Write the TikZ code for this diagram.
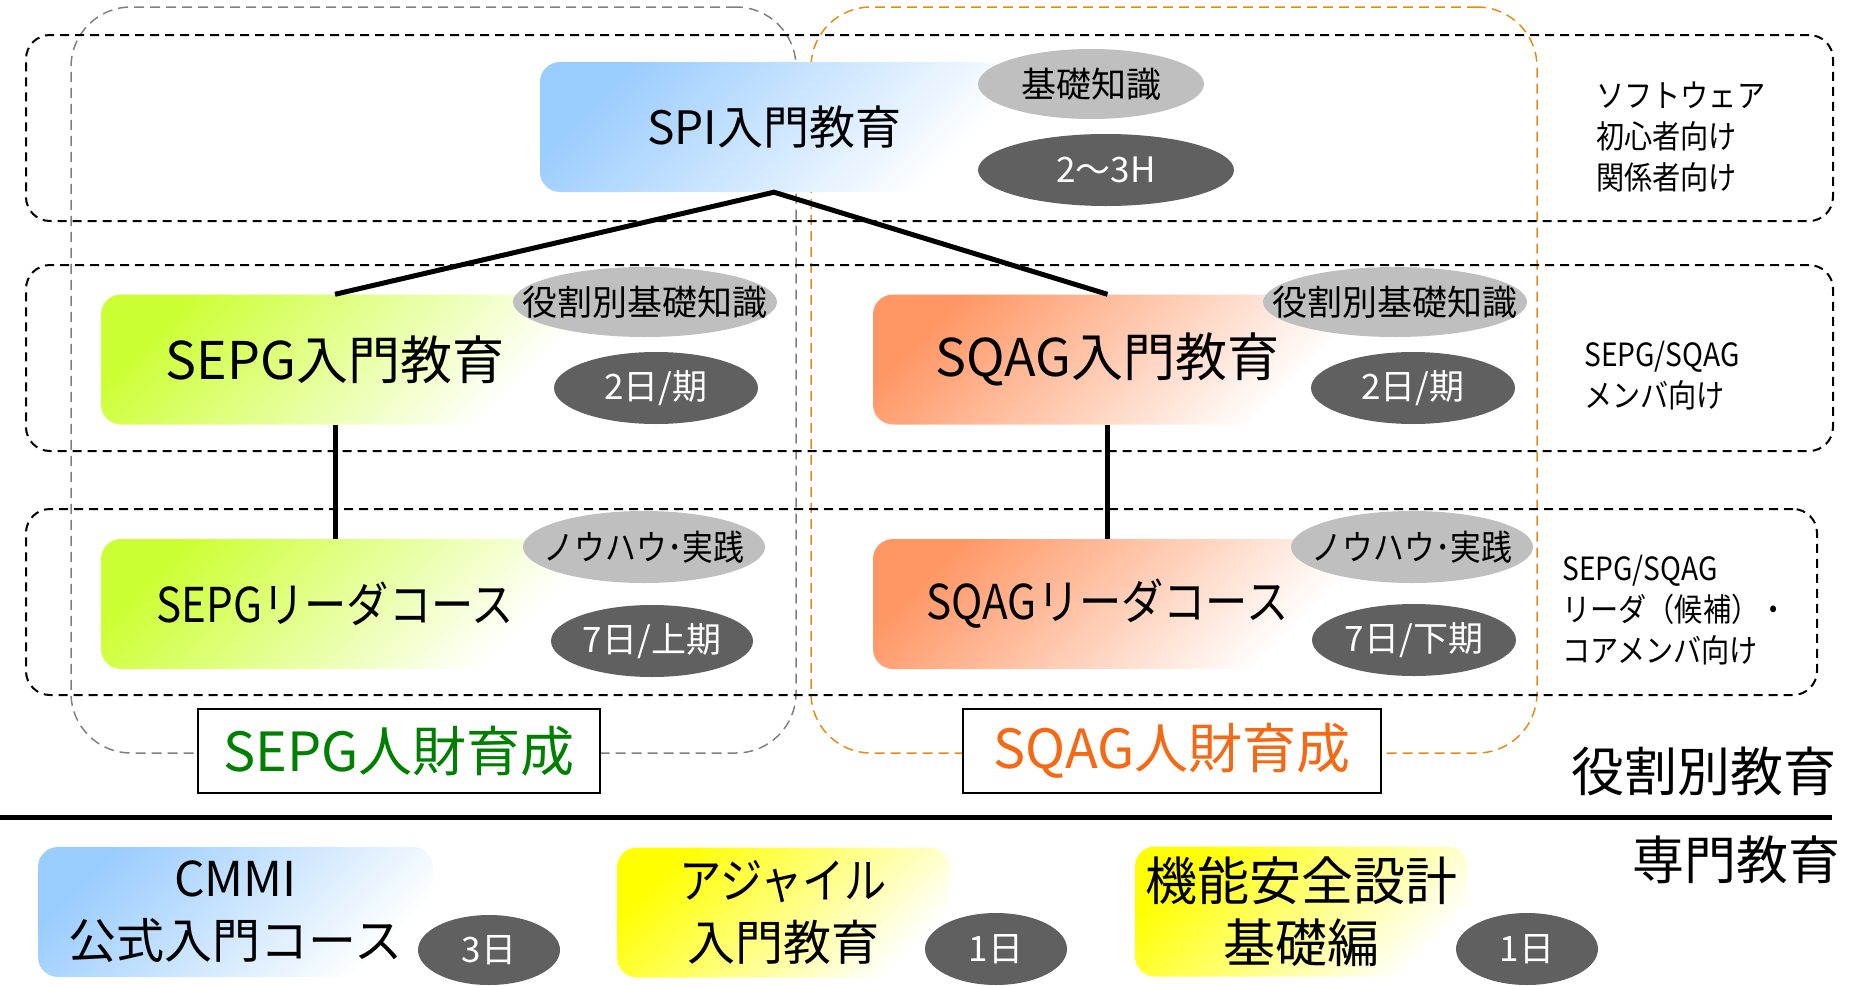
\documentclass[tikz,border=0pt]{standalone}
\usepackage{fontspec}
\setmainfont{Noto Sans CJK JP}
\newfontfamily\jpc[FakeStretch=0.88]{Noto Sans CJK JP}
\usetikzlibrary{shapes.geometric}
\definecolor{spiblue}{RGB}{153,204,255}
\definecolor{sepggreen}{RGB}{204,255,51}
\definecolor{sqagorange}{RGB}{255,150,100}
\definecolor{agileyellow}{RGB}{255,255,0}
\definecolor{lgray}{RGB}{191,191,191}
\definecolor{dgray}{RGB}{96,96,96}
\definecolor{grpgray}{RGB}{128,128,128}
\definecolor{grporange}{RGB}{230,140,20}
\definecolor{sepgtext}{RGB}{0,128,0}
\definecolor{sqagtext}{RGB}{245,105,20}
\newcommand{\jfs}[2]{\fontsize{#1}{#2}\selectfont}
\tikzset{
  rowbox/.style={draw=black, line width=2pt, dash pattern=on 9pt off 6pt, rounded corners=24pt, inner sep=0pt},
  grpbox/.style={line width=1.5pt, dash pattern=on 10pt off 6pt, rounded corners=60pt, inner sep=0pt},
  course/.style={top color=#1, bottom color=white, shading angle=45, rounded corners=20pt, inner sep=0pt, align=center},
  tagL/.style={ellipse, fill=lgray, inner sep=0pt},
  tagD/.style={ellipse, fill=dgray, inner sep=0pt},
  tagLt/.style={font=\jfs{35}{40}, text=black, inner sep=0pt},
  tagDt/.style={font=\jfs{35}{40}, text=white, inner sep=0pt},
  rowlabel/.style={anchor=west, align=left, font=\jpc\jfs{32}{41}, inner sep=0pt},
  grplabel/.style={draw=black, line width=2pt, fill=white, inner sep=0pt, font=\jfs{54}{60}},
  conn/.style={line width=5pt, line join=miter},
}
\begin{document}
\begin{tikzpicture}[x=1pt,y=-1pt]
\useasboundingbox (0,0) rectangle (1854,985);
% group frames
\node[grpbox, draw=grpgray, minimum width=725pt, minimum height=746pt] (gsepg) at (433.5,380) {};
\node[grpbox, draw=grporange, minimum width=726pt, minimum height=746pt] (gsqag) at (1174,380) {};
% row frames
\node[rowbox, minimum width=1807pt, minimum height=186pt] (row1) at (929.5,128) {};
\node[rowbox, minimum width=1807pt, minimum height=186pt] (row2) at (929.5,358) {};
\node[rowbox, minimum width=1791pt, minimum height=186pt] (row3) at (921.5,602) {};
% row labels
\node[rowlabel] (lab1) at (1596,137) {ソフトウェア\\初心者向け\\関係者向け};
\node[rowlabel] (lab2) at (1584,376) {SEPG/SQAG\\メンバ向け};
\node[rowlabel] (lab3) at (1562,610) {SEPG/SQAG\\リーダ（候補）・\\コアメンバ向け};
% course boxes
\node[course=spiblue, minimum width=468pt, minimum height=130pt, font=\jfs{46}{50}] (spi) at (774,127) {SPI入門教育};
\node[course=sepggreen, minimum width=468pt, minimum height=130pt, font=\jfs{52}{56}] (sepg) at (335,359.5) {SEPG入門教育};
\node[course=sqagorange, minimum width=469pt, minimum height=130pt, font=\jfs{52}{56}] (sqag) at (1107.5,359.5) {SQAG入門教育};
\node[course=sepggreen, minimum width=468pt, minimum height=130pt, font=\jpc\jfs{48}{52}] (sepgl) at (335,604) {SEPGリーダコース};
\node[course=sqagorange, minimum width=469pt, minimum height=130pt, font=\jpc\jfs{48}{52}] (sqagl) at (1107.5,604) {SQAGリーダコース};
% connectors
\draw[conn] (sepg.north) -- (spi.south) -- (sqag.north);
\draw[conn] (sepg.south) -- (sepgl.north);
\draw[conn] (sqag.south) -- (sqagl.north);
% tags
\node[tagL, minimum width=226pt, minimum height=70pt] (e1) at (1091,84) {};
\node[tagLt] (t1) at (e1.center) {基礎知識};
\node[tagD, minimum width=256pt, minimum height=72pt] (e2) at (1106,170) {};
\node[tagDt] (t2) at (e2.center) {2～3H};
\node[tagL, minimum width=264pt, minimum height=70pt] (e3) at (645,302) {};
\node[tagLt] (t3) at (e3.center) {役割別基礎知識};
\node[tagD, minimum width=204pt, minimum height=72pt] (e4) at (656,388) {};
\node[tagDt] (t4) at (e4.center) {2日/期};
\node[tagL, minimum width=264pt, minimum height=70pt] (e5) at (1395,302) {};
\node[tagLt] (t5) at (e5.center) {役割別基礎知識};
\node[tagD, minimum width=204pt, minimum height=72pt] (e6) at (1413,388) {};
\node[tagDt] (t6) at (e6.center) {2日/期};
\node[tagL, minimum width=242pt, minimum height=72pt] (e7) at (644,547) {};
\node[tagLt, font=\jpc\jfs{35}{40}] (t7) at (e7.center) {ノウハウ･実践};
\node[tagD, minimum width=202pt, minimum height=72pt] (e8) at (652,641) {};
\node[tagDt] (t8) at (e8.center) {7日/上期};
\node[tagL, minimum width=242pt, minimum height=72pt] (e9) at (1412,547) {};
\node[tagLt, font=\jpc\jfs{35}{40}] (t9) at (e9.center) {ノウハウ･実践};
\node[tagD, minimum width=204pt, minimum height=72pt] (e10) at (1414,640) {};
\node[tagDt] (t10) at (e10.center) {7日/下期};
% group labels
\node[grplabel, minimum width=402pt, minimum height=84pt, text=sepgtext] (gl1) at (399,751) {SEPG人財育成};
\node[grplabel, minimum width=418pt, minimum height=84pt, text=sqagtext] (gl2) at (1172,751) {SQAG人財育成};
\node[font=\jfs{53}{58}, inner sep=0pt] (role) at (1704,771) {役割別教育};
% separator
\coordinate (sepL) at (0,817);
\coordinate (sepR) at (1832,817);
\draw[line width=5pt] (sepL) -- (sepR);
\node[font=\jfs{52}{58}, inner sep=0pt] (spec) at (1736,860) {専門教育};
% bottom courses
\node[course=spiblue, minimum width=395pt, minimum height=130pt, font=\jfs{48}{62}] (cmmi) at (235.5,912) {CMMI\\公式入門コース};
\node[course=agileyellow, minimum width=333pt, minimum height=130pt, font=\jfs{48}{62}] (agile) at (783.5,912.5) {{\jpc アジャイル}\\入門教育};
\node[course=agileyellow, minimum width=333pt, minimum height=130pt, font=\jfs{52}{62}] (fsafe) at (1301.5,911.5) {機能安全設計\\基礎編};
\node[tagD, minimum width=142pt, minimum height=70pt] (e11) at (489,950) {};
\node[tagDt] (t11) at (e11.center) {3日};
\node[tagD, minimum width=142pt, minimum height=72pt] (e12) at (996,949) {};
\node[tagDt] (t12) at (e12.center) {1日};
\node[tagD, minimum width=142pt, minimum height=72pt] (e13) at (1527,949) {};
\node[tagDt] (t13) at (e13.center) {1日};
\end{tikzpicture}
\end{document}
